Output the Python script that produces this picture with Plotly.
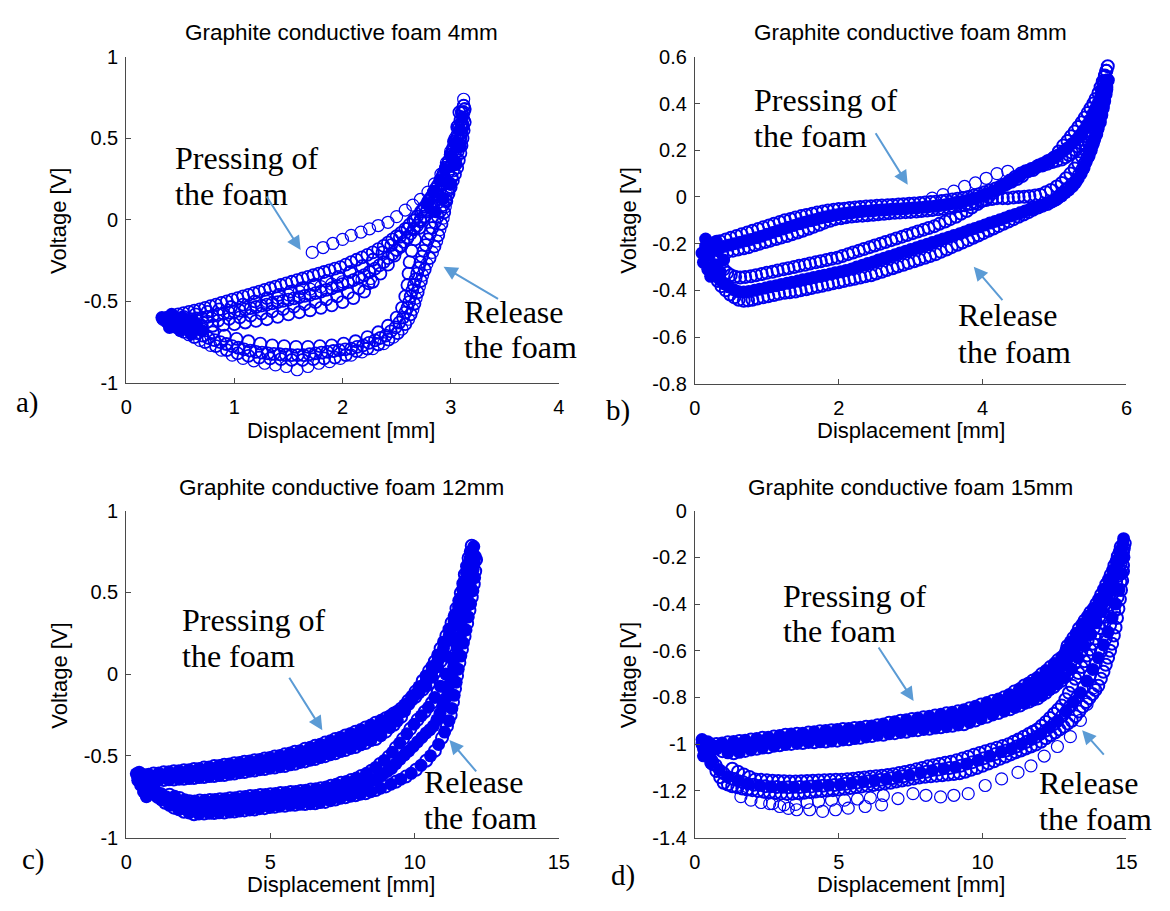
import plotly.graph_objects as go

W, H = 1170, 911

# ---------------- text / ticks ----------------
TITLES = ["Graphite conductive foam 4mm", "Graphite conductive foam 8mm",
          "Graphite conductive foam 12mm", "Graphite conductive foam 15mm"]
X_LABEL = "Displacement [mm]"
Y_LABEL = "Voltage [V]"
PANEL_LETTERS = ["a)", "b)", "c)", "d)"]
PRESS_TEXT = ["Pressing of", "the foam"]
RELEASE_TEXT = ["Release", "the foam"]

A_XTICKS = [0, 1, 2, 3, 4]
A_YTICKS = [-1, -0.5, 0, 0.5, 1]
A_YLABELS = ["-1", "-0.5", "0", "0.5", "1"]
B_XTICKS = [0, 2, 4, 6]
B_YTICKS = [-0.8, -0.6, -0.4, -0.2, 0, 0.2, 0.4, 0.6]
B_YLABELS = ["-0.8", "-0.6", "-0.4", "-0.2", "0", "0.2", "0.4", "0.6"]
C_XTICKS = [0, 5, 10, 15]
C_YTICKS = [-1, -0.5, 0, 0.5, 1]
C_YLABELS = ["-1", "-0.5", "0", "0.5", "1"]
D_XTICKS = [0, 5, 10, 15]
D_YTICKS = [-1.4, -1.2, -1, -0.8, -0.6, -0.4, -0.2, 0]
D_YLABELS = ["-1.4", "-1.2", "-1", "-0.8", "-0.6", "-0.4", "-0.2", "0"]

# ================= panel a (4 mm) =================
A_P1_X = [1.72,1.82,1.91,2.0,2.08,2.17,2.25,2.33,2.42,2.5,2.58,2.65,2.72,2.79,2.85,2.91,2.96,3.0,3.04,3.07,3.1,3.12]
A_P1_Y = [-0.2,-0.17,-0.145,-0.12,-0.095,-0.075,-0.055,-0.035,-0.015,0.02,0.06,0.09,0.125,0.17,0.22,0.28,0.35,0.42,0.5,0.58,0.66,0.74]
A_S1_X = [0.38,0.48,0.58,0.68,0.78,0.88,0.98,1.08,1.18,1.28,1.38,1.48,1.58,1.68,1.78,1.88,1.98,2.08,2.18,2.28,2.38,2.46,2.54,2.62,2.69,2.76,2.82,2.88,2.93,2.98,3.02,3.06,3.09,3.12]
A_S1_Y = [-0.6,-0.58,-0.565,-0.55,-0.53,-0.51,-0.49,-0.47,-0.45,-0.43,-0.41,-0.39,-0.37,-0.35,-0.33,-0.31,-0.29,-0.26,-0.23,-0.2,-0.16,-0.12,-0.08,-0.03,0.02,0.08,0.14,0.21,0.28,0.36,0.44,0.52,0.61,0.7]
A_S1H_X = [0.43,0.53,0.63,0.73,0.83,0.93,1.03,1.13,1.23,1.33,1.43,1.53,1.63,1.73,1.83,1.93,2.03,2.13,2.23,2.33,2.42,2.5,2.58,2.655,2.725,2.79,2.85,2.905,2.955,3.0,3.04,3.075,3.105]
A_S1H_Y = [-0.59,-0.572,-0.557,-0.54,-0.52,-0.5,-0.48,-0.46,-0.44,-0.42,-0.4,-0.38,-0.36,-0.34,-0.32,-0.3,-0.275,-0.245,-0.215,-0.18,-0.14,-0.1,-0.055,-0.005,0.05,0.11,0.175,0.245,0.32,0.4,0.48,0.565,0.655]
A_S2_X = [0.42,0.53,0.64,0.75,0.86,0.97,1.08,1.19,1.3,1.41,1.52,1.63,1.74,1.85,1.96,2.07,2.18,2.28,2.37,2.45,2.53,2.6,2.67,2.74,2.8,2.86,2.92,2.97,3.02,3.06,3.1,3.13]
A_S2_Y = [-0.61,-0.595,-0.58,-0.565,-0.55,-0.535,-0.52,-0.5,-0.48,-0.46,-0.44,-0.42,-0.4,-0.375,-0.35,-0.32,-0.285,-0.245,-0.2,-0.155,-0.105,-0.055,0.0,0.06,0.12,0.19,0.26,0.34,0.42,0.5,0.59,0.68]
A_S3_X = [0.5,0.6,0.7,0.8,0.9,1.0,1.1,1.2,1.3,1.4,1.5,1.6,1.7,1.8,1.9,2.0,2.1,2.2,2.3,2.38,2.46,2.53,2.6,2.66,2.72,2.78,2.84,2.9,2.95,3.0,3.04,3.08,3.11]
A_S3_Y = [-0.625,-0.61,-0.6,-0.59,-0.575,-0.565,-0.55,-0.535,-0.52,-0.505,-0.49,-0.475,-0.46,-0.44,-0.42,-0.395,-0.37,-0.34,-0.3,-0.26,-0.21,-0.16,-0.11,-0.06,-0.01,0.05,0.11,0.18,0.25,0.33,0.41,0.49,0.57]
A_S3H_X = [0.55,0.65,0.75,0.85,0.95,1.05,1.15,1.25,1.35,1.45,1.55,1.65,1.75,1.85,1.95,2.05,2.15,2.25,2.34,2.42,2.5,2.565,2.63,2.69,2.75,2.81,2.87,2.925,2.975,3.02,3.06,3.095]
A_S3H_Y = [-0.617,-0.605,-0.595,-0.582,-0.57,-0.557,-0.542,-0.527,-0.512,-0.497,-0.482,-0.467,-0.45,-0.43,-0.407,-0.382,-0.355,-0.32,-0.28,-0.235,-0.185,-0.135,-0.085,-0.035,0.02,0.08,0.145,0.215,0.29,0.37,0.45,0.53]
A_S4_X = [0.6,0.7,0.8,0.9,1.0,1.1,1.2,1.3,1.4,1.5,1.6,1.7,1.8,1.9,2.0,2.1,2.2,2.28,2.35,2.42,2.48,2.54,2.6,2.66,2.72,2.78]
A_S4_Y = [-0.65,-0.65,-0.65,-0.645,-0.64,-0.63,-0.62,-0.61,-0.595,-0.58,-0.567,-0.555,-0.54,-0.525,-0.505,-0.48,-0.44,-0.38,-0.33,-0.275,-0.22,-0.165,-0.11,-0.055,0.0,0.06]
A_S5_X = [1.3,1.4,1.5,1.6,1.7,1.8,1.9,2.0,2.1,2.18,2.26]
A_S5_Y = [-0.5,-0.48,-0.46,-0.44,-0.425,-0.41,-0.395,-0.38,-0.37,-0.365,-0.36]
A_S6_X = [0.75,0.85,0.95,1.05,1.15,1.25,1.35,1.45,1.55,1.65,1.75,1.85,1.95,2.05,2.15,2.24]
A_S6_Y = [-0.625,-0.618,-0.608,-0.598,-0.588,-0.575,-0.562,-0.548,-0.533,-0.518,-0.505,-0.488,-0.47,-0.448,-0.42,-0.39]
A_TOP_X = [2.78,2.84,2.9,2.95,3.0,3.04,3.08,3.11,2.86,2.93,2.99,3.05,3.09]
A_TOP_Y = [0.1,0.17,0.24,0.31,0.39,0.47,0.55,0.63,0.05,0.13,0.22,0.34,0.45]
A_R1_X = [3.12,3.12,3.1,3.08,3.05,3.02,3.0,2.97,2.95,2.93,2.9,2.87,2.83,2.78,2.74,2.71,2.68,2.65,2.61,2.55,2.47,2.38,2.28,2.18,2.08,1.98,1.88,1.78,1.68,1.58,1.48,1.38,1.28,1.18,1.08,0.98,0.88,0.78,0.68,0.58,0.49,0.41,0.34]
A_R1_Y = [0.7,0.62,0.54,0.46,0.38,0.3,0.22,0.15,0.08,0.01,-0.06,-0.13,-0.2,-0.27,-0.34,-0.41,-0.48,-0.55,-0.61,-0.67,-0.72,-0.76,-0.79,-0.81,-0.83,-0.85,-0.87,-0.88,-0.9,-0.92,-0.9,-0.89,-0.88,-0.865,-0.85,-0.83,-0.8,-0.77,-0.74,-0.705,-0.67,-0.64,-0.61]
A_R1H_X = [3.12,3.11,3.09,3.065,3.035,3.01,2.985,2.96,2.94,2.915,2.885,2.85,2.805,2.76,2.725,2.695,2.665,2.63,2.58,2.51,2.425,2.33,2.23,2.13,2.03,1.93,1.83,1.73,1.63,1.53,1.43,1.33,1.23,1.13,1.03,0.93,0.83,0.73,0.63,0.535,0.45,0.375]
A_R1H_Y = [0.66,0.58,0.5,0.42,0.34,0.26,0.185,0.115,0.045,-0.025,-0.095,-0.165,-0.235,-0.305,-0.375,-0.445,-0.515,-0.58,-0.64,-0.695,-0.735,-0.765,-0.79,-0.805,-0.83,-0.845,-0.85,-0.855,-0.86,-0.86,-0.855,-0.85,-0.845,-0.835,-0.82,-0.8,-0.775,-0.75,-0.72,-0.688,-0.655,-0.625]
A_R2_X = [3.08,3.06,3.03,3.0,2.96,2.92,2.87,2.82,2.76,2.71,2.67,2.64,2.62,2.61,2.6,2.58,2.55,2.5,2.42,2.33,2.23,2.12,2.01,1.9,1.79,1.68,1.57,1.46,1.35,1.24,1.13,1.02,0.91,0.8,0.7,0.6,0.5,0.4]
A_R2_Y = [0.66,0.57,0.48,0.4,0.32,0.24,0.16,0.09,0.02,-0.05,-0.12,-0.19,-0.26,-0.33,-0.4,-0.47,-0.54,-0.6,-0.65,-0.69,-0.72,-0.745,-0.76,-0.77,-0.775,-0.78,-0.78,-0.775,-0.77,-0.76,-0.745,-0.73,-0.71,-0.69,-0.67,-0.65,-0.63,-0.615]
A_R3_X = [3.13,3.11,3.09,3.06,3.02,2.98,2.93,2.88,2.83,2.79,2.75,2.72,2.69,2.66,2.63,2.6,2.56,2.49,2.4,2.3,2.19,2.08,1.97,1.86,1.75,1.64,1.53,1.42,1.31,1.2,1.09,0.98,0.87,0.76,0.65,0.55,0.45,0.36]
A_R3_Y = [0.6,0.5,0.41,0.32,0.24,0.16,0.09,0.02,-0.05,-0.12,-0.19,-0.26,-0.33,-0.4,-0.47,-0.54,-0.6,-0.66,-0.71,-0.74,-0.77,-0.79,-0.8,-0.81,-0.82,-0.83,-0.83,-0.825,-0.82,-0.81,-0.795,-0.775,-0.75,-0.725,-0.695,-0.665,-0.635,-0.61]
A_R3H_X = [3.12,3.1,3.075,3.04,3.0,2.955,2.905,2.855,2.81,2.77,2.735,2.705,2.675,2.645,2.615,2.58,2.525,2.445,2.35,2.245,2.135,2.025,1.915,1.805,1.695,1.585,1.475,1.365,1.255,1.145,1.035,0.925,0.815,0.705,0.6,0.5,0.405]
A_R3H_Y = [0.55,0.455,0.365,0.28,0.2,0.125,0.055,-0.015,-0.085,-0.155,-0.225,-0.295,-0.365,-0.435,-0.505,-0.57,-0.63,-0.685,-0.725,-0.755,-0.78,-0.795,-0.805,-0.815,-0.825,-0.83,-0.828,-0.822,-0.815,-0.802,-0.785,-0.762,-0.738,-0.71,-0.68,-0.65,-0.622]
A_BLOB_X = [0.33,0.38,0.42,0.47,0.52,0.57,0.62,0.4,0.5,0.6,0.7,0.45,0.55,0.65]
A_BLOB_Y = [-0.6,-0.62,-0.58,-0.64,-0.6,-0.66,-0.62,-0.66,-0.68,-0.7,-0.68,-0.62,-0.64,-0.64]

# ================= panel b (8 mm) =================
B_PT_X = [0.2,0.35,0.5,0.65,0.8,0.95,1.1,1.25,1.4,1.55,1.7,1.85,2.0,2.15,2.3,2.45,2.6,2.75,2.9,3.05,3.2,3.35,3.5,3.65,3.8,3.95,4.1,4.25,4.4,4.55,4.7,4.85,5.0,5.12,5.23,5.33,5.42,5.5,5.57,5.64,5.7,5.74]
B_PT_Y = [-0.205,-0.19,-0.175,-0.16,-0.145,-0.13,-0.115,-0.1,-0.088,-0.077,-0.067,-0.058,-0.052,-0.047,-0.043,-0.04,-0.037,-0.034,-0.031,-0.028,-0.024,-0.02,-0.015,-0.008,0.0,0.012,0.028,0.045,0.065,0.09,0.115,0.14,0.17,0.22,0.26,0.3,0.34,0.38,0.42,0.47,0.52,0.56]
B_PTH_X = [0.28,0.43,0.58,0.73,0.88,1.03,1.18,1.33,1.48,1.63,1.78,1.93,2.08,2.23,2.38,2.53,2.68,2.83,2.98,3.13,3.28,3.43,3.58,3.73,3.88,4.03,4.18,4.33,4.48,4.63,4.78,4.93,5.06,5.18,5.28,5.38,5.46,5.54,5.61,5.67,5.72]
B_PTH_Y = [-0.197,-0.182,-0.167,-0.152,-0.137,-0.122,-0.107,-0.094,-0.082,-0.072,-0.062,-0.055,-0.05,-0.045,-0.041,-0.038,-0.035,-0.032,-0.029,-0.026,-0.022,-0.017,-0.011,-0.004,0.006,0.02,0.036,0.055,0.077,0.11,0.135,0.155,0.195,0.24,0.28,0.32,0.36,0.4,0.445,0.495,0.54]
B_PM_X = [0.25,0.4,0.55,0.7,0.85,1.0,1.15,1.3,1.45,1.6,1.75,1.9,2.05,2.2,2.35,2.5,2.65,2.8,2.95,3.1,3.25,3.4,3.55,3.7,3.85,4.0,4.15,4.3,4.45,4.6,4.75,4.9,5.05,5.18,5.3,5.4,5.49,5.57,5.64,5.71]
B_PM_Y = [-0.225,-0.212,-0.2,-0.188,-0.175,-0.16,-0.145,-0.13,-0.115,-0.102,-0.09,-0.08,-0.072,-0.066,-0.061,-0.058,-0.055,-0.052,-0.049,-0.046,-0.042,-0.037,-0.03,-0.021,-0.01,0.005,0.025,0.05,0.08,0.11,0.13,0.155,0.18,0.21,0.245,0.285,0.33,0.38,0.43,0.5]
B_PMH_X = [0.33,0.48,0.63,0.78,0.93,1.08,1.23,1.38,1.53,1.68,1.83,1.98,2.13,2.28,2.43,2.58,2.73,2.88,3.03,3.18,3.33,3.48,3.63,3.78,3.93,4.08,4.23,4.38,4.53,4.68,4.83,4.98,5.12,5.24,5.35,5.45,5.53,5.61,5.68]
B_PMH_Y = [-0.218,-0.206,-0.194,-0.182,-0.168,-0.152,-0.137,-0.122,-0.108,-0.096,-0.085,-0.076,-0.069,-0.063,-0.06,-0.056,-0.053,-0.05,-0.047,-0.044,-0.04,-0.033,-0.025,-0.015,-0.003,0.015,0.037,0.065,0.095,0.12,0.143,0.168,0.195,0.228,0.265,0.308,0.355,0.405,0.465]
B_PB_X = [0.3,0.45,0.6,0.75,0.9,1.05,1.2,1.35,1.5,1.65,1.8,1.95,2.1,2.25,2.4,2.55,2.7,2.85,3.0,3.15,3.3,3.45,3.6,3.75,3.9,4.05,4.2,4.35,4.5,4.65,4.8,4.95,5.1,5.22,5.33,5.43,5.52,5.6,5.67,5.72]
B_PB_Y = [-0.245,-0.235,-0.225,-0.215,-0.2,-0.187,-0.174,-0.16,-0.145,-0.128,-0.11,-0.095,-0.087,-0.082,-0.078,-0.074,-0.07,-0.067,-0.064,-0.06,-0.056,-0.05,-0.043,-0.035,-0.025,-0.013,-0.005,-0.005,0.0,0.003,0.01,0.03,0.06,0.1,0.145,0.2,0.26,0.32,0.39,0.46]
B_PBH_X = [0.38,0.53,0.68,0.83,0.98,1.13,1.28,1.43,1.58,1.73,1.88,2.03,2.18,2.33,2.48,2.63,2.78,2.93,3.08,3.23,3.38,3.53,3.68,3.83,3.98,4.13,4.28,4.43,4.58,4.73,4.88,5.03,5.16,5.28,5.38,5.48,5.56,5.64]
B_PBH_Y = [-0.24,-0.23,-0.22,-0.207,-0.193,-0.18,-0.167,-0.152,-0.136,-0.119,-0.102,-0.091,-0.084,-0.08,-0.076,-0.072,-0.068,-0.065,-0.062,-0.058,-0.053,-0.046,-0.039,-0.03,-0.019,-0.009,-0.005,-0.002,0.001,0.006,0.02,0.045,0.08,0.122,0.172,0.23,0.29,0.355]
B_PS_X = [3.3,3.45,3.6,3.75,3.9,4.05,4.2,4.35]
B_PS_Y = [-0.005,0.01,0.025,0.045,0.06,0.08,0.1,0.11]
B_R1_X = [5.72,5.69,5.66,5.62,5.57,5.51,5.44,5.37,5.29,5.2,5.1,4.97,4.83,4.68,4.53,4.38,4.23,4.08,3.93,3.78,3.63,3.48,3.33,3.18,3.03,2.88,2.73,2.58,2.43,2.28,2.13,1.98,1.83,1.68,1.53,1.38,1.23,1.08,0.93,0.78,0.63,0.5,0.4]
B_R1_Y = [0.54,0.49,0.44,0.39,0.34,0.3,0.26,0.23,0.2,0.18,0.16,0.15,0.135,0.12,0.1,0.07,0.035,0.0,-0.03,-0.06,-0.085,-0.105,-0.125,-0.14,-0.155,-0.17,-0.185,-0.2,-0.215,-0.23,-0.245,-0.26,-0.27,-0.28,-0.29,-0.3,-0.31,-0.32,-0.33,-0.34,-0.345,-0.335,-0.31]
B_R1H_X = [5.7,5.67,5.64,5.6,5.54,5.47,5.4,5.33,5.24,5.15,5.03,4.9,4.75,4.6,4.45,4.3,4.15,4.0,3.85,3.7,3.55,3.4,3.25,3.1,2.95,2.8,2.65,2.5,2.35,2.2,2.05,1.9,1.75,1.6,1.45,1.3,1.15,1.0,0.85,0.7,0.56,0.45]
B_R1H_Y = [0.515,0.465,0.415,0.365,0.32,0.28,0.245,0.215,0.19,0.17,0.155,0.142,0.128,0.11,0.085,0.053,0.018,-0.015,-0.045,-0.072,-0.095,-0.115,-0.133,-0.148,-0.163,-0.178,-0.193,-0.208,-0.223,-0.238,-0.253,-0.265,-0.275,-0.285,-0.295,-0.305,-0.315,-0.325,-0.335,-0.343,-0.342,-0.325]
B_R2_X = [5.74,5.7,5.66,5.62,5.57,5.51,5.44,5.37,5.29,5.2,5.1,5.0,4.87,4.73,4.59,4.45,4.31,4.17,4.03,3.89,3.75,3.6,3.45,3.3,3.15,3.0,2.85,2.7,2.55,2.4,2.25,2.1,1.95,1.8,1.65,1.5,1.35,1.2,1.05,0.9,0.75,0.6,0.47,0.35,0.25]
B_R2_Y = [0.5,0.44,0.38,0.32,0.26,0.2,0.15,0.1,0.06,0.03,0.005,-0.015,-0.03,-0.045,-0.06,-0.075,-0.09,-0.105,-0.12,-0.135,-0.15,-0.165,-0.18,-0.195,-0.21,-0.225,-0.24,-0.255,-0.27,-0.285,-0.3,-0.315,-0.325,-0.335,-0.345,-0.355,-0.365,-0.375,-0.385,-0.395,-0.405,-0.405,-0.385,-0.355,-0.32]
B_R2H_X = [5.72,5.68,5.64,5.6,5.54,5.48,5.41,5.33,5.25,5.15,5.05,4.94,4.8,4.66,4.52,4.38,4.24,4.1,3.96,3.82,3.68,3.53,3.38,3.23,3.08,2.93,2.78,2.63,2.48,2.33,2.18,2.03,1.88,1.73,1.58,1.43,1.28,1.13,0.98,0.83,0.68,0.54,0.41,0.3]
B_R2H_Y = [0.47,0.41,0.35,0.29,0.23,0.175,0.125,0.08,0.045,0.018,-0.005,-0.022,-0.038,-0.052,-0.068,-0.082,-0.098,-0.112,-0.128,-0.142,-0.158,-0.172,-0.188,-0.202,-0.218,-0.232,-0.248,-0.262,-0.278,-0.292,-0.308,-0.32,-0.33,-0.34,-0.35,-0.36,-0.37,-0.38,-0.39,-0.4,-0.407,-0.397,-0.372,-0.34]
B_R3_X = [5.74,5.71,5.67,5.63,5.58,5.52,5.46,5.39,5.3,5.2,5.1,5.02,4.9,4.77,4.64,4.5,4.36,4.22,4.08,3.94,3.8,3.65,3.5,3.35,3.2,3.05,2.9,2.75,2.6,2.45,2.3,2.15,2.0,1.85,1.7,1.55,1.4,1.25,1.1,0.95,0.8,0.68,0.55,0.43,0.32,0.22,0.15]
B_R3_Y = [0.5,0.44,0.38,0.32,0.27,0.22,0.17,0.12,0.07,0.04,0.015,-0.01,-0.03,-0.045,-0.065,-0.085,-0.105,-0.125,-0.145,-0.165,-0.185,-0.205,-0.225,-0.245,-0.26,-0.275,-0.29,-0.305,-0.32,-0.335,-0.345,-0.355,-0.365,-0.375,-0.385,-0.395,-0.405,-0.41,-0.42,-0.43,-0.44,-0.445,-0.43,-0.4,-0.36,-0.31,-0.27]
B_R3H_X = [5.72,5.69,5.65,5.6,5.55,5.49,5.42,5.34,5.25,5.15,5.06,4.96,4.83,4.7,4.57,4.43,4.29,4.15,4.01,3.87,3.72,3.57,3.42,3.27,3.12,2.97,2.82,2.67,2.52,2.37,2.22,2.07,1.92,1.77,1.62,1.47,1.32,1.17,1.02,0.87,0.74,0.61,0.49,0.37,0.27,0.18]
B_R3H_Y = [0.47,0.41,0.35,0.295,0.245,0.195,0.145,0.095,0.055,0.028,0.002,-0.02,-0.038,-0.055,-0.075,-0.095,-0.115,-0.135,-0.155,-0.175,-0.195,-0.215,-0.235,-0.253,-0.268,-0.283,-0.298,-0.313,-0.328,-0.34,-0.35,-0.36,-0.37,-0.38,-0.39,-0.4,-0.408,-0.415,-0.425,-0.435,-0.443,-0.44,-0.418,-0.382,-0.335,-0.29]
B_BLOB_X = [0.1,0.12,0.15,0.18,0.2,0.25,0.28,0.32,0.35,0.4,0.15,0.22,0.3]
B_BLOB_Y = [-0.24,-0.28,-0.21,-0.31,-0.25,-0.2,-0.29,-0.23,-0.32,-0.27,-0.18,-0.34,-0.19]

# ================= panel c (12 mm) =================
C_UT_X = [0.6,0.95,1.3,1.65,2.0,2.35,2.7,3.05,3.4,3.75,4.1,4.45,4.8,5.15,5.5,5.85,6.2,6.55,6.9,7.25,7.6,7.95,8.3,8.65,9.0,9.28,9.53,9.78,10.03,10.28,10.5,10.7,10.9,11.1,11.28,11.45,11.6,11.74,11.87,11.98]
C_UT_Y = [-0.617,-0.608,-0.601,-0.595,-0.589,-0.581,-0.572,-0.563,-0.554,-0.545,-0.536,-0.527,-0.516,-0.504,-0.491,-0.475,-0.457,-0.439,-0.419,-0.397,-0.375,-0.352,-0.326,-0.298,-0.27,-0.241,-0.212,-0.163,-0.107,-0.041,0.02,0.077,0.157,0.235,0.314,0.402,0.497,0.61,0.71,0.785]
C_UTH_X = [0.78,1.13,1.48,1.83,2.18,2.53,2.88,3.23,3.58,3.93,4.28,4.63,4.98,5.33,5.68,6.03,6.38,6.73,7.08,7.43,7.78,8.13,8.48,8.83,9.14,9.4,9.65,9.9,10.15,10.39,10.6,10.8,11.0,11.19,11.37,11.53,11.67,11.8,11.93]
C_UTH_Y = [-0.613,-0.605,-0.598,-0.592,-0.585,-0.577,-0.568,-0.559,-0.55,-0.541,-0.532,-0.522,-0.51,-0.498,-0.483,-0.469,-0.448,-0.429,-0.408,-0.386,-0.363,-0.339,-0.312,-0.283,-0.255,-0.227,-0.188,-0.136,-0.078,-0.011,0.047,0.117,0.197,0.275,0.357,0.45,0.555,0.66,0.75]
C_UM_X = [0.45,0.8,1.15,1.5,1.85,2.2,2.55,2.9,3.25,3.6,3.95,4.3,4.65,5.0,5.35,5.7,6.05,6.4,6.75,7.1,7.45,7.8,8.15,8.5,8.85,9.15,9.4,9.65,9.9,10.15,10.4,10.6,10.8,11.0,11.2,11.37,11.53,11.67,11.8,11.93,12.05]
C_UM_Y = [-0.625,-0.63,-0.626,-0.622,-0.617,-0.612,-0.604,-0.597,-0.59,-0.581,-0.572,-0.562,-0.553,-0.542,-0.532,-0.519,-0.502,-0.486,-0.468,-0.449,-0.429,-0.408,-0.385,-0.359,-0.33,-0.291,-0.255,-0.21,-0.15,-0.098,-0.041,0.015,0.081,0.16,0.24,0.325,0.415,0.52,0.62,0.705,0.78]
C_UMH_X = [0.63,0.98,1.33,1.68,2.03,2.38,2.73,3.08,3.43,3.78,4.13,4.48,4.83,5.18,5.53,5.88,6.23,6.58,6.93,7.28,7.63,7.98,8.33,8.68,9.0,9.28,9.53,9.78,10.03,10.28,10.5,10.7,10.9,11.1,11.28,11.45,11.6,11.74,11.87,11.99]
C_UMH_Y = [-0.628,-0.628,-0.624,-0.62,-0.614,-0.608,-0.6,-0.593,-0.585,-0.576,-0.567,-0.557,-0.547,-0.537,-0.525,-0.51,-0.494,-0.477,-0.458,-0.439,-0.418,-0.396,-0.372,-0.345,-0.31,-0.273,-0.232,-0.18,-0.124,-0.07,-0.013,0.048,0.12,0.2,0.282,0.37,0.467,0.57,0.662,0.745]
C_UB_X = [1.3,1.65,2.0,2.35,2.7,3.05,3.4,3.75,4.1,4.45,4.8,5.15,5.5,5.85,6.2,6.55,6.9,7.25,7.6,7.95,8.3,8.65,9.0,9.28,9.53,9.78,10.03,10.28,10.5,10.7,10.9,11.1,11.28,11.45,11.6,11.74,11.87,11.98]
C_UB_Y = [-0.648,-0.645,-0.641,-0.636,-0.63,-0.624,-0.618,-0.608,-0.599,-0.59,-0.581,-0.572,-0.562,-0.549,-0.534,-0.519,-0.502,-0.484,-0.465,-0.446,-0.422,-0.397,-0.352,-0.31,-0.262,-0.183,-0.139,-0.095,-0.057,0.013,0.078,0.167,0.26,0.36,0.46,0.57,0.67,0.75]
C_UBH_X = [1.13,1.48,1.83,2.18,2.53,2.88,3.23,3.58,3.93,4.28,4.63,4.98,5.33,5.68,6.03,6.38,6.73,7.08,7.43,7.78,8.13,8.48,8.83,9.14,9.4,9.65,9.9,10.15,10.39,10.6,10.8,11.0,11.19,11.37,11.53,11.67,11.8,11.93]
C_UBH_Y = [-0.648,-0.647,-0.643,-0.639,-0.633,-0.627,-0.621,-0.613,-0.603,-0.594,-0.585,-0.576,-0.567,-0.555,-0.541,-0.527,-0.511,-0.493,-0.474,-0.455,-0.433,-0.407,-0.377,-0.327,-0.287,-0.227,-0.16,-0.115,-0.075,-0.02,0.045,0.12,0.21,0.31,0.41,0.515,0.62,0.71]
C_LI_X = [1.5,1.85,2.2,2.55,2.9,3.25,3.6,3.95,4.3,4.65,5.0,5.35,5.7,6.05,6.4,6.75,7.1,7.45,7.8,8.15,8.5,8.8,9.1,9.35,9.6,9.85,10.1,10.35,10.6,10.8,11.0,11.15,11.3,11.45,11.6,11.72,11.84,11.95,12.05]
C_LI_Y = [-0.738,-0.758,-0.778,-0.774,-0.77,-0.765,-0.759,-0.753,-0.746,-0.74,-0.735,-0.728,-0.722,-0.715,-0.706,-0.699,-0.683,-0.665,-0.648,-0.623,-0.591,-0.55,-0.505,-0.45,-0.395,-0.335,-0.28,-0.23,-0.175,-0.11,-0.04,0.05,0.15,0.25,0.35,0.44,0.53,0.62,0.7]
C_LIH_X = [1.68,2.03,2.38,2.73,3.08,3.43,3.78,4.13,4.48,4.83,5.18,5.53,5.88,6.23,6.58,6.93,7.28,7.63,7.98,8.33,8.65,8.95,9.23,9.48,9.73,9.98,10.23,10.48,10.7,10.9,11.08,11.23,11.38,11.53,11.66,11.78,11.9,12.0]
C_LIH_Y = [-0.748,-0.768,-0.776,-0.772,-0.767,-0.762,-0.756,-0.749,-0.743,-0.737,-0.731,-0.725,-0.718,-0.71,-0.702,-0.691,-0.674,-0.657,-0.636,-0.607,-0.571,-0.528,-0.478,-0.422,-0.365,-0.307,-0.255,-0.203,-0.143,-0.075,0.0,0.1,0.2,0.3,0.395,0.485,0.575,0.66]
C_LM_X = [0.55,0.85,1.2,1.55,1.9,2.25,2.6,2.95,3.3,3.65,4.0,4.35,4.7,5.05,5.4,5.75,6.1,6.45,6.8,7.15,7.5,7.85,8.2,8.55,8.9,9.2,9.5,9.8,10.1,10.4,10.65,10.88,11.07,11.22,11.35,11.47,11.58,11.7,11.82,11.93,12.03,12.1]
C_LM_Y = [-0.64,-0.7,-0.73,-0.77,-0.8,-0.817,-0.815,-0.81,-0.806,-0.8,-0.794,-0.787,-0.781,-0.774,-0.767,-0.761,-0.755,-0.748,-0.742,-0.726,-0.71,-0.696,-0.675,-0.649,-0.613,-0.577,-0.52,-0.47,-0.415,-0.36,-0.317,-0.24,-0.15,-0.06,0.045,0.16,0.23,0.35,0.45,0.54,0.64,0.72]
C_LMH_X = [0.7,1.02,1.38,1.73,2.08,2.43,2.78,3.13,3.48,3.83,4.18,4.53,4.88,5.23,5.58,5.93,6.28,6.63,6.98,7.33,7.68,8.03,8.38,8.73,9.05,9.35,9.65,9.95,10.25,10.53,10.77,10.98,11.15,11.29,11.41,11.53,11.64,11.76,11.88,11.98,12.07]
C_LMH_Y = [-0.67,-0.715,-0.75,-0.785,-0.81,-0.816,-0.812,-0.808,-0.803,-0.797,-0.79,-0.784,-0.777,-0.77,-0.764,-0.758,-0.751,-0.745,-0.734,-0.718,-0.703,-0.686,-0.662,-0.631,-0.595,-0.548,-0.495,-0.443,-0.388,-0.34,-0.28,-0.195,-0.105,-0.01,0.1,0.195,0.29,0.4,0.495,0.59,0.68]
C_LO_X = [0.5,0.7,0.9,1.1,1.35,1.65,2.0,2.35,2.7,3.05,3.4,3.75,4.1,4.45,4.8,5.15,5.5,5.85,6.2,6.55,6.9,7.25,7.6,7.95,8.3,8.65,9.0,9.35,9.7,10.05,10.4,10.7,10.95,11.12,11.25,11.33,11.4,11.47,11.55,11.64,11.73,11.82,11.9,11.98,12.05,12.1,12.13]
C_LO_Y = [-0.64,-0.69,-0.727,-0.752,-0.787,-0.817,-0.842,-0.857,-0.853,-0.85,-0.847,-0.841,-0.834,-0.828,-0.82,-0.812,-0.805,-0.799,-0.795,-0.79,-0.782,-0.767,-0.753,-0.741,-0.729,-0.709,-0.687,-0.659,-0.627,-0.585,-0.53,-0.47,-0.39,-0.32,-0.25,-0.17,-0.09,-0.01,0.07,0.15,0.23,0.31,0.39,0.47,0.55,0.63,0.7]
C_LOH_X = [0.6,0.8,1.0,1.22,1.5,1.82,2.18,2.52,2.88,3.22,3.58,3.92,4.28,4.62,4.98,5.32,5.68,6.02,6.38,6.72,7.08,7.42,7.78,8.12,8.48,8.82,9.18,9.52,9.88,10.22,10.55,10.83,11.04,11.19,11.29,11.37,11.44,11.51,11.6,11.69,11.78,11.86,11.94,12.02,12.08]
C_LOH_Y = [-0.665,-0.71,-0.74,-0.77,-0.803,-0.83,-0.85,-0.856,-0.852,-0.849,-0.844,-0.838,-0.831,-0.824,-0.816,-0.808,-0.802,-0.797,-0.793,-0.786,-0.775,-0.76,-0.747,-0.735,-0.72,-0.698,-0.674,-0.643,-0.607,-0.558,-0.5,-0.43,-0.355,-0.285,-0.21,-0.13,-0.05,0.03,0.11,0.19,0.27,0.35,0.43,0.51,0.59]
C_BLOB_X = [0.35,0.4,0.45,0.5,0.6,0.7,0.4]
C_BLOB_Y = [-0.61,-0.65,-0.6,-0.68,-0.72,-0.75,-0.63]

# ================= panel d (15 mm) =================
D_UT_X = [0.35,0.75,1.15,1.55,1.95,2.35,2.75,3.15,3.55,3.95,4.35,4.75,5.15,5.55,5.95,6.35,6.75,7.15,7.55,7.95,8.35,8.75,9.15,9.55,9.95,10.35,10.75,11.1,11.45,11.75,12.05,12.35,12.62,12.88,12.95,13.15,13.35,13.55,13.75,13.95,14.12,14.3,14.45,14.58,14.7,14.8]
D_UT_Y = [-1.005,-0.999,-0.992,-0.986,-0.98,-0.973,-0.967,-0.96,-0.955,-0.95,-0.945,-0.94,-0.935,-0.931,-0.925,-0.919,-0.908,-0.9,-0.892,-0.885,-0.877,-0.868,-0.859,-0.846,-0.83,-0.815,-0.799,-0.775,-0.749,-0.727,-0.7,-0.67,-0.64,-0.612,-0.58,-0.545,-0.505,-0.47,-0.435,-0.4,-0.36,-0.315,-0.275,-0.235,-0.195,-0.155]
D_UTH_X = [0.55,0.95,1.35,1.75,2.15,2.55,2.95,3.35,3.75,4.15,4.55,4.95,5.35,5.75,6.15,6.55,6.95,7.35,7.75,8.15,8.55,8.95,9.35,9.75,10.15,10.55,10.93,11.28,11.6,11.9,12.2,12.49,12.75,12.9,13.05,13.25,13.45,13.65,13.85,14.03,14.2,14.37,14.52,14.64,14.75]
D_UTH_Y = [-1.002,-0.995,-0.989,-0.983,-0.976,-0.97,-0.963,-0.957,-0.953,-0.947,-0.942,-0.937,-0.933,-0.928,-0.922,-0.914,-0.904,-0.896,-0.888,-0.881,-0.872,-0.863,-0.853,-0.838,-0.822,-0.807,-0.787,-0.763,-0.738,-0.715,-0.685,-0.655,-0.626,-0.596,-0.562,-0.525,-0.487,-0.452,-0.418,-0.38,-0.337,-0.295,-0.255,-0.215,-0.175]
D_UM_X = [0.25,0.6,1.0,1.4,1.8,2.2,2.6,3.0,3.4,3.8,4.2,4.6,5.0,5.4,5.8,6.2,6.6,7.0,7.4,7.8,8.2,8.6,9.0,9.4,9.8,10.2,10.6,10.95,11.3,11.6,11.9,12.2,12.48,12.74,12.98,13.22,13.44,13.65,13.85,14.04,14.21,14.37,14.51,14.63,14.74,14.83,14.9]
D_UM_Y = [-1.0,-1.005,-1.01,-1.014,-1.005,-0.997,-0.99,-0.984,-0.978,-0.973,-0.969,-0.965,-0.961,-0.955,-0.95,-0.944,-0.935,-0.928,-0.92,-0.913,-0.906,-0.9,-0.891,-0.882,-0.866,-0.851,-0.835,-0.819,-0.798,-0.78,-0.76,-0.732,-0.7,-0.665,-0.63,-0.59,-0.55,-0.51,-0.47,-0.43,-0.39,-0.345,-0.3,-0.255,-0.21,-0.165,-0.12]
D_UMH_X = [0.42,0.8,1.2,1.6,2.0,2.4,2.8,3.2,3.6,4.0,4.4,4.8,5.2,5.6,6.0,6.4,6.8,7.2,7.6,8.0,8.4,8.8,9.2,9.6,10.0,10.4,10.78,11.13,11.45,11.75,12.05,12.34,12.61,12.86,13.1,13.33,13.55,13.75,13.95,14.13,14.29,14.44,14.57,14.69,14.79,14.87]
D_UMH_Y = [-1.003,-1.008,-1.012,-1.01,-1.001,-0.994,-0.987,-0.981,-0.976,-0.971,-0.967,-0.963,-0.958,-0.953,-0.947,-0.94,-0.932,-0.924,-0.917,-0.91,-0.903,-0.896,-0.887,-0.874,-0.859,-0.843,-0.827,-0.809,-0.789,-0.77,-0.746,-0.716,-0.683,-0.648,-0.61,-0.57,-0.53,-0.49,-0.45,-0.41,-0.368,-0.323,-0.278,-0.233,-0.188,-0.143]
D_UB_X = [0.55,0.95,1.35,1.75,2.15,2.55,2.95,3.35,3.75,4.15,4.55,4.95,5.35,5.75,6.15,6.55,6.95,7.35,7.75,8.15,8.55,8.95,9.35,9.75,10.15,10.55,10.95,11.3,11.62,11.92,12.2,12.47,12.72,12.96,13.2,13.43,13.65,13.86,14.05,14.23,14.4,14.55,14.68]
D_UB_Y = [-1.005,-1.03,-1.039,-1.029,-1.02,-1.013,-1.005,-0.999,-0.995,-0.992,-0.989,-0.985,-0.979,-0.973,-0.965,-0.96,-0.953,-0.947,-0.94,-0.934,-0.928,-0.921,-0.915,-0.899,-0.883,-0.867,-0.851,-0.835,-0.818,-0.804,-0.78,-0.755,-0.73,-0.7,-0.655,-0.605,-0.555,-0.505,-0.455,-0.405,-0.345,-0.285,-0.225]
D_UBH_X = [0.75,1.15,1.55,1.95,2.35,2.75,3.15,3.55,3.95,4.35,4.75,5.15,5.55,5.95,6.35,6.75,7.15,7.55,7.95,8.35,8.75,9.15,9.55,9.95,10.35,10.75,11.12,11.46,11.77,12.06,12.33,12.6,12.84,13.08,13.32,13.54,13.76,13.96,14.14,14.32,14.48,14.62]
D_UBH_Y = [-1.02,-1.037,-1.035,-1.025,-1.017,-1.009,-1.002,-0.997,-0.993,-0.99,-0.987,-0.982,-0.976,-0.969,-0.962,-0.956,-0.95,-0.943,-0.937,-0.931,-0.925,-0.918,-0.907,-0.891,-0.875,-0.859,-0.843,-0.826,-0.811,-0.792,-0.767,-0.742,-0.715,-0.678,-0.63,-0.58,-0.53,-0.48,-0.43,-0.375,-0.315,-0.255]
D_LI_X = [1.3,1.7,2.1,2.5,2.9,3.3,3.7,4.1,4.5,4.9,5.3,5.7,6.1,6.5,6.9,7.3,7.7,8.1,8.5,8.9,9.3,9.7,10.1,10.5,10.9,11.25,11.6,11.9,12.2,12.48,12.75,13.0,13.22,13.44,13.64,13.83,14.0,14.16,14.31,14.45,14.58,14.7,14.8,14.88,14.94]
D_LI_Y = [-1.105,-1.13,-1.151,-1.155,-1.158,-1.16,-1.159,-1.157,-1.155,-1.153,-1.15,-1.145,-1.14,-1.135,-1.129,-1.119,-1.108,-1.095,-1.085,-1.075,-1.062,-1.045,-1.03,-1.015,-1.0,-0.98,-0.957,-0.937,-0.905,-0.87,-0.835,-0.78,-0.72,-0.67,-0.62,-0.57,-0.525,-0.48,-0.43,-0.38,-0.33,-0.28,-0.23,-0.18,-0.14]
D_LIH_X = [1.5,1.9,2.3,2.7,3.1,3.5,3.9,4.3,4.7,5.1,5.5,5.9,6.3,6.7,7.1,7.5,7.9,8.3,8.7,9.1,9.5,9.9,10.3,10.7,11.08,11.43,11.75,12.05,12.34,12.62,12.88,13.11,13.33,13.54,13.74,13.92,14.08,14.24,14.38,14.52,14.64,14.75,14.84,14.91]
D_LIH_Y = [-1.118,-1.141,-1.153,-1.157,-1.159,-1.16,-1.158,-1.156,-1.154,-1.152,-1.148,-1.143,-1.138,-1.132,-1.124,-1.114,-1.102,-1.09,-1.08,-1.069,-1.054,-1.038,-1.023,-1.008,-0.99,-0.968,-0.947,-0.921,-0.888,-0.852,-0.808,-0.75,-0.695,-0.645,-0.595,-0.548,-0.503,-0.455,-0.405,-0.355,-0.305,-0.255,-0.205,-0.16]
D_LM_X = [0.4,0.6,0.85,1.15,1.5,1.85,2.25,2.65,3.05,3.45,3.85,4.25,4.65,5.05,5.45,5.85,6.25,6.65,7.05,7.45,7.85,8.25,8.65,9.05,9.45,9.85,10.25,10.65,11.0,11.35,11.7,12.02,12.33,12.62,12.9,13.15,13.4,13.62,13.83,14.02,14.2,14.36,14.5,14.63,14.74,14.84,14.91]
D_LM_Y = [-1.02,-1.07,-1.11,-1.14,-1.156,-1.17,-1.177,-1.182,-1.185,-1.185,-1.182,-1.179,-1.176,-1.173,-1.167,-1.161,-1.156,-1.15,-1.142,-1.133,-1.122,-1.113,-1.105,-1.099,-1.085,-1.069,-1.051,-1.033,-1.02,-1.0,-0.98,-0.957,-0.928,-0.9,-0.86,-0.82,-0.78,-0.73,-0.68,-0.63,-0.575,-0.52,-0.46,-0.4,-0.34,-0.27,-0.2]
D_LMH_X = [0.5,0.72,1.0,1.32,1.68,2.05,2.45,2.85,3.25,3.65,4.05,4.45,4.85,5.25,5.65,6.05,6.45,6.85,7.25,7.65,8.05,8.45,8.85,9.25,9.65,10.05,10.45,10.83,11.18,11.53,11.86,12.18,12.48,12.76,13.03,13.28,13.51,13.73,13.93,14.11,14.28,14.43,14.57,14.69,14.79,14.88]
D_LMH_Y = [-1.045,-1.09,-1.125,-1.148,-1.163,-1.174,-1.18,-1.184,-1.185,-1.184,-1.181,-1.178,-1.175,-1.17,-1.164,-1.159,-1.153,-1.146,-1.138,-1.128,-1.118,-1.109,-1.102,-1.092,-1.077,-1.06,-1.042,-1.027,-1.01,-0.99,-0.969,-0.943,-0.914,-0.88,-0.84,-0.8,-0.755,-0.705,-0.655,-0.603,-0.548,-0.49,-0.43,-0.37,-0.305,-0.235]
D_LO_X = [0.5,0.75,1.0,1.3,1.65,2.0,2.4,2.8,3.2,3.6,4.0,4.4,4.8,5.2,5.6,6.0,6.4,6.8,7.2,7.6,8.0,8.4,8.8,9.2,9.6,10.0,10.4,10.8,11.15,11.5,11.85,12.2,12.52,12.82,13.1,13.36,13.6,13.82,14.02,14.2,14.36,14.5,14.62,14.72,14.81,14.88]
D_LO_Y = [-1.05,-1.115,-1.165,-1.18,-1.19,-1.197,-1.204,-1.209,-1.213,-1.21,-1.205,-1.201,-1.197,-1.191,-1.184,-1.178,-1.172,-1.165,-1.156,-1.147,-1.14,-1.135,-1.13,-1.125,-1.11,-1.093,-1.073,-1.053,-1.035,-1.019,-1.002,-0.975,-0.95,-0.925,-0.9,-0.86,-0.82,-0.785,-0.75,-0.69,-0.63,-0.57,-0.5,-0.42,-0.34,-0.26]
D_LOH_X = [0.62,0.88,1.15,1.48,1.82,2.2,2.6,3.0,3.4,3.8,4.2,4.6,5.0,5.4,5.8,6.2,6.6,7.0,7.4,7.8,8.2,8.6,9.0,9.4,9.8,10.2,10.6,10.98,11.33,11.68,12.03,12.36,12.67,12.96,13.23,13.48,13.71,13.92,14.11,14.28,14.43,14.56,14.67,14.77,14.85]
D_LOH_Y = [-1.085,-1.142,-1.173,-1.185,-1.194,-1.2,-1.207,-1.211,-1.212,-1.208,-1.203,-1.199,-1.194,-1.188,-1.181,-1.175,-1.168,-1.16,-1.152,-1.143,-1.138,-1.133,-1.128,-1.118,-1.102,-1.083,-1.063,-1.044,-1.027,-1.01,-0.99,-0.962,-0.937,-0.912,-0.88,-0.84,-0.803,-0.768,-0.72,-0.66,-0.6,-0.535,-0.46,-0.38,-0.3]
D_LS_X = [2.6,2.95,3.25,3.54,3.99,4.44,4.89,5.33,5.92,6.49,7.06,7.58,8.03,8.54,9.0,9.5,10.09,10.66,11.23,11.68,12.14,12.6,13.05,13.4,13.63,13.85]
D_LS_Y = [-1.255,-1.267,-1.275,-1.281,-1.281,-1.288,-1.281,-1.274,-1.267,-1.26,-1.233,-1.212,-1.219,-1.226,-1.219,-1.212,-1.177,-1.149,-1.121,-1.093,-1.051,-1.01,-0.968,-0.898,-0.829,-0.759]
D_LS2_X = [1.6,1.95,2.3,2.7,3.1,3.5,3.9,4.3,4.75,5.2,5.65,6.1,6.55]
D_LS2_Y = [-1.225,-1.24,-1.25,-1.255,-1.26,-1.258,-1.25,-1.245,-1.24,-1.24,-1.235,-1.23,-1.22]
D_BLOB_X = [0.25,0.3,0.35,0.45,0.3,0.4,0.5,0.55]
D_BLOB_Y = [-0.98,-1.02,-1.0,-0.99,-1.05,-1.04,-1.03,-1.08]

# strand kinds: "core" = overplotted centre of a dense band, "edge" = band edge,
# "a" = panel-a strands, "thin" = isolated sparse circles
PANEL_SERIES = {
    1: [(A_P1_X, A_P1_Y, "thin"), (A_S5_X, A_S5_Y, "thin"), (A_S1_X, A_S1_Y, "a"), (A_S1H_X, A_S1H_Y, "a"),
        (A_S2_X, A_S2_Y, "a"), (A_S3_X, A_S3_Y, "a"), (A_S3H_X, A_S3H_Y, "a"), (A_S4_X, A_S4_Y, "a"),
        (A_S6_X, A_S6_Y, "a"), (A_R1_X, A_R1_Y, "thin"), (A_R1H_X, A_R1H_Y, "a"), (A_R2_X, A_R2_Y, "a"),
        (A_R3_X, A_R3_Y, "a"), (A_R3H_X, A_R3H_Y, "a"), (A_TOP_X, A_TOP_Y, "core"),
        (A_BLOB_X, A_BLOB_Y, "core")],
    2: [(B_PM_X, B_PM_Y, "core"), (B_PMH_X, B_PMH_Y, "core"), (B_R2_X, B_R2_Y, "core"),
        (B_R2H_X, B_R2H_Y, "core"), (B_BLOB_X, B_BLOB_Y, "core"),
        (B_PT_X, B_PT_Y, "edge"), (B_PTH_X, B_PTH_Y, "edge"), (B_PB_X, B_PB_Y, "edge"),
        (B_PBH_X, B_PBH_Y, "edge"), (B_R1_X, B_R1_Y, "edge"), (B_R1H_X, B_R1H_Y, "edge"),
        (B_R3_X, B_R3_Y, "edge"), (B_R3H_X, B_R3H_Y, "edge"), (B_PS_X, B_PS_Y, "thin")],
    3: [(C_UTH_X, C_UTH_Y, "core"), (C_UM_X, C_UM_Y, "core"), (C_UMH_X, C_UMH_Y, "core"),
        (C_UBH_X, C_UBH_Y, "core"), (C_LIH_X, C_LIH_Y, "core"), (C_LM_X, C_LM_Y, "core"),
        (C_LMH_X, C_LMH_Y, "core"), (C_LOH_X, C_LOH_Y, "core"), (C_BLOB_X, C_BLOB_Y, "core"),
        (C_UT_X, C_UT_Y, "edge"), (C_UB_X, C_UB_Y, "edge"), (C_LI_X, C_LI_Y, "edge"),
        (C_LO_X, C_LO_Y, "edge")],
    4: [(D_UTH_X, D_UTH_Y, "core"), (D_UM_X, D_UM_Y, "core"), (D_UMH_X, D_UMH_Y, "core"),
        (D_UBH_X, D_UBH_Y, "core"), (D_LM_X, D_LM_Y, "core"), (D_BLOB_X, D_BLOB_Y, "core"),
        (D_UT_X, D_UT_Y, "edge"), (D_UB_X, D_UB_Y, "edge"), (D_LI_X, D_LI_Y, "edge"),
        (D_LIH_X, D_LIH_Y, "edge"), (D_LMH_X, D_LMH_Y, "edge"), (D_LO_X, D_LO_Y, "edge"),
        (D_LOH_X, D_LOH_Y, "edge"), (D_LS_X, D_LS_Y, "thin"), (D_LS2_X, D_LS2_Y, "thin")],
}

# ---------------- layout helpers (pixel -> paper) ----------------
def px(x):
    return x / W

def py(y):
    return 1 - y / H

BOXES = {1: (122, 561, 47, 381), 2: (699, 1137, 47, 382),
         3: (122, 561, 512, 847), 4: (699, 1137, 512, 847)}
RANGES = {1: ([0, 4], [-1, 1]), 2: ([0, 6], [-0.8, 0.6]),
          3: ([0, 15], [-1, 1]), 4: ([0, 15], [-1.4, 0])}
TICKS = {1: (A_XTICKS, A_YTICKS, A_YLABELS), 2: (B_XTICKS, B_YTICKS, B_YLABELS),
         3: (C_XTICKS, C_YTICKS, C_YLABELS), 4: (D_XTICKS, D_YTICKS, D_YLABELS)}

BLUE = "rgb(0,0,240)"
AXC = "#4a4a4a"
SANS = "Liberation Sans, Arial, sans-serif"
SERIF = "Liberation Serif, Times New Roman, serif"
MARKER_STYLE = {
    "core": dict(symbol="circle", size=13, color=BLUE, line=dict(width=0)),
    "edge": dict(symbol="circle-open", size=12, color=BLUE, line=dict(width=2, color=BLUE)),
    "a": dict(symbol="circle-open", size=12, color=BLUE, line=dict(width=1.8, color=BLUE)),
    "thin": dict(symbol="circle-open", size=12, color=BLUE, line=dict(width=1.2, color=BLUE)),
}

fig = go.Figure()
for k, series in PANEL_SERIES.items():
    sfx = "" if k == 1 else str(k)
    for xs, ys, kind in series:
        fig.add_trace(go.Scatter(
            x=xs, y=ys, mode="markers", xaxis="x" + sfx, yaxis="y" + sfx,
            showlegend=False, hoverinfo="skip", cliponaxis=False,
            marker=MARKER_STYLE[kind]))

layout = dict(width=W, height=H, margin=dict(l=0, r=0, t=0, b=0),
              paper_bgcolor="white", plot_bgcolor="white", showlegend=False)
for k in range(1, 5):
    l, r, t, b = BOXES[k]
    xr, yr = RANGES[k]
    xt, yt, yl = TICKS[k]
    sfx = "" if k == 1 else str(k)
    common = dict(showline=True, linecolor=AXC, linewidth=1, ticks="inside", ticklen=5,
                  tickwidth=1, tickcolor=AXC, showgrid=False, zeroline=False, fixedrange=True,
                  tickfont=dict(family=SANS, size=20, color="black"))
    layout["xaxis" + sfx] = dict(domain=[px(l), px(r)], range=xr, anchor="y" + sfx,
                                 tickvals=xt, ticktext=[str(v) for v in xt],
                                 ticklabelstandoff=6, **common)
    layout["yaxis" + sfx] = dict(domain=[py(b), py(t)], range=yr, anchor="x" + sfx,
                                 tickvals=yt, ticktext=yl, ticklabelstandoff=3, **common)
fig.update_layout(**layout)

ann = []
for k, (cx, cy) in zip(range(1, 5), [(340, 22), (918, 22), (340, 488), (918, 488)]):
    ann.append(dict(text=TITLES[k - 1], x=px(cx), y=py(cy), xref="paper", yref="paper",
                    showarrow=False, xanchor="center", yanchor="middle",
                    font=dict(family=SANS, size=22.5, color="black")))
for cx, cy in [(340, 430), (918, 430), (340, 895), (918, 895)]:
    ann.append(dict(text=X_LABEL, x=px(cx), y=py(cy), xref="paper", yref="paper",
                    showarrow=False, xanchor="center", yanchor="middle",
                    font=dict(family=SANS, size=22, color="black")))
for cx, cy in [(54, 215), (632, 215), (54, 681), (632, 681)]:
    ann.append(dict(text=Y_LABEL, x=px(cx), y=py(cy), xref="paper", yref="paper",
                    showarrow=False, xanchor="center", yanchor="middle", textangle=-90,
                    font=dict(family=SANS, size=22, color="black")))
for letter, (cx, cy) in zip(PANEL_LETTERS, [(22, 401), (621, 409), (28, 870), (626, 886)]):
    ann.append(dict(text=letter, x=px(cx), y=py(cy), xref="paper", yref="paper",
                    showarrow=False, xanchor="center", yanchor="middle",
                    font=dict(family=SERIF, size=29, color="black")))
PRESS_POS = [(169, 151, 188), (757, 91, 128), (177, 624, 661), (786, 599, 635)]
REL_POS = [(463, 308, 344), (964, 312, 349), (422, 790, 827), (1046, 791, 828)]
for (lx, y1, y2) in PRESS_POS:
    for line, yy in zip(PRESS_TEXT, (y1, y2)):
        ann.append(dict(text=line, x=px(lx), y=py(yy), xref="paper", yref="paper",
                        showarrow=False, xanchor="left", yanchor="middle",
                        font=dict(family=SERIF, size=32, color="black")))
for (lx, y1, y2) in REL_POS:
    for line, yy in zip(RELEASE_TEXT, (y1, y2)):
        ann.append(dict(text=line, x=px(lx), y=py(yy), xref="paper", yref="paper",
                        showarrow=False, xanchor="left", yanchor="middle",
                        font=dict(family=SERIF, size=32, color="black")))
ARROWS = [(264, 190, 299, 245), (500, 295, 444, 262),
          (882, 125, 915, 178), (1012, 297, 982, 262),
          (287, 683, 321, 737), (478, 780, 450, 747),
          (885, 652, 921, 707), (1115, 763, 1092, 737)]
for tx, ty, hx, hy in ARROWS:
    ann.append(dict(text="", x=px(hx), y=py(hy), xref="paper", yref="paper",
                    ax=tx - hx, ay=ty - hy, showarrow=True, arrowhead=2, arrowsize=1.4,
                    arrowwidth=2, arrowcolor="#5b9bd5", standoff=0, startstandoff=0))
fig.update_layout(annotations=ann)

fig.write_html("out.html", include_plotlyjs=True, config={"displayModeBar": False},
               post_script="document.body.style.margin='0';document.body.style.overflow='hidden';")
